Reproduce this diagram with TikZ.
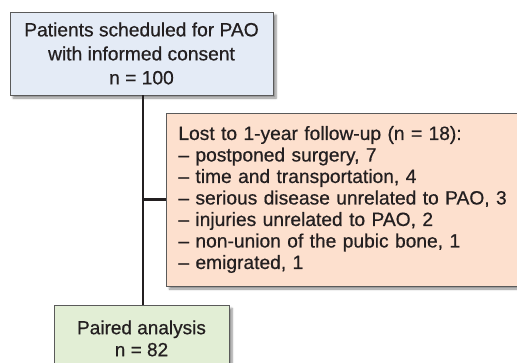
\documentclass[tikz,border=0pt]{standalone}
\usepackage{fontspec}
\setmainfont{Liberation Sans}
\newfontfamily\medfont{Liberation Sans}[FakeBold=0.6, Ligatures=TeX]
\usepackage{xcolor}
\usepackage{tikz}
\usetikzlibrary{positioning,calc,shadows.blur}
\definecolor{boxblue}{RGB}{228,235,246}
\definecolor{boxpeach}{RGB}{253,224,206}
\definecolor{boxgreen}{RGB}{226,238,213}
\definecolor{boxline}{RGB}{90,90,90}
\definecolor{txtdark}{RGB}{35,31,32}

\begin{document}
\begin{tikzpicture}[
		x=1pt, y=-1pt,
		box/.style={draw=boxline, line width=0.8pt, inner sep=0pt,
			blur shadow={shadow xshift=3pt, shadow yshift=-3pt, shadow blur steps=6, shadow opacity=45},
			text=txtdark},
		link/.style={line width=2.6pt, draw=txtdark}
		]
		\useasboundingbox (0,0) rectangle (517,362);
		
		% ===== ô trên: bệnh nhân =====
		\node[box, fill=boxblue, minimum width=263pt, minimum height=83pt, align=center,
			font=\medfont\fontsize{19.2}{24}\selectfont] (start) at (141.5,53.5)
			{Patients scheduled for PAO\\with informed consent\\n = 100};
		
		% ===== ô phải: mất theo dõi =====
		\node[box, fill=boxpeach, minimum width=356pt, minimum height=173pt, align=left,
			anchor=west, text width=345pt, inner xsep=12pt,
			font=\medfont\fontsize{19.2}{21.5}\selectfont] (lost) at (166,199.5)
			{Lost to 1-year follow-up (n = 18):\\
			 -- postponed surgery, 7\\
			 -- time and transportation, 4\\
			 -- serious disease unrelated to PAO, 3\\
			 -- injuries unrelated to PAO, 2\\
			 -- non-union of the pubic bone, 1\\
			 -- emigrated, 1};
		
		% ===== ô dưới: phân tích =====
		\node[box, fill=boxgreen, minimum width=175pt, minimum height=66pt, align=center,
			anchor=north, font=\medfont\fontsize{19}{22}\selectfont] (paired) at (141.5,305)
			{Paired analysis\\n = 82};
		
		% ===== đường nối =====
		\coordinate (junc) at ($(start.south)+(1.5,0)$);
		\coordinate (branch) at (junc |- lost.west);
		\draw[link] (junc) -- (junc |- paired.north);
		\draw[link] (branch) -- (lost.west);
		
	\end{tikzpicture}
\end{document}
